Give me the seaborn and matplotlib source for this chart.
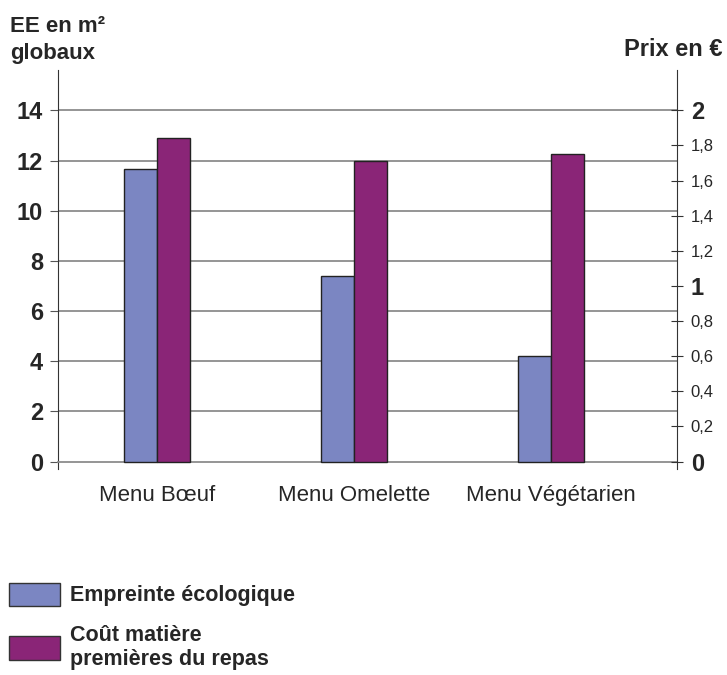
import pandas as pd
import matplotlib.pyplot as plt
import seaborn as sns
from matplotlib.patches import Patch

# data
menus = ['Menu Bœuf', 'Menu Omelette', 'Menu Végétarien']
empreinte = [11.65, 7.38, 4.22]      # EE en m² globaux (left axis)
cout = [1.84, 1.71, 1.75]            # prix en € (right axis)
series = ['Empreinte écologique', 'Coût matière\npremières du repas']
left_ticks = [0, 2, 4, 6, 8, 10, 12, 14]
right_ticks = [0, 0.2, 0.4, 0.6, 0.8, 1, 1.2, 1.4, 1.6, 1.8, 2]
right_labels = ['0', '0,2', '0,4', '0,6', '0,8', '1', '1,2', '1,4', '1,6', '1,8', '2']

sns.set_style('white')
plt.rcParams['font.family'] = ['Liberation Sans', 'DejaVu Sans']

colors = {series[0]: '#7b86c2', series[1]: '#8a2577'}

df_ee = pd.DataFrame({'menu': menus, 'serie': series[0], 'valeur': empreinte})
df_prix = pd.DataFrame({'menu': menus, 'serie': series[1], 'valeur': cout})

fig = plt.figure(figsize=(7.27, 6.75), dpi=100)
ax = fig.add_axes([0.08, 0.305, 0.851, 0.591])
ax2 = ax.twinx()

sns.barplot(data=df_ee, x='menu', y='valeur', hue='serie', hue_order=series,
            order=menus, palette=colors, width=0.335, dodge=True, saturation=1,
            edgecolor='#222222', linewidth=1, legend=False, ax=ax, zorder=3)
sns.barplot(data=df_prix, x='menu', y='valeur', hue='serie', hue_order=series,
            order=menus, palette=colors, width=0.335, dodge=True, saturation=1,
            edgecolor='#222222', linewidth=1, legend=False, ax=ax2, zorder=3)

ymin, ymax = -0.3, 15.6
ax.set_ylim(ymin, ymax)
ax2.set_ylim(ymin / 7, ymax / 7)
ax.set_xlim(-0.5, 2.64)

# left axis
ax.set_yticks(left_ticks)
ax.set_yticklabels([str(t) for t in left_ticks], fontsize=17, fontweight='bold')
ax.tick_params(axis='y', direction='out', length=6, color='#555555', pad=5)
for y in left_ticks[1:]:
    ax.axhline(y, color='#8c8c8c', lw=1.3, zorder=1)
ax.set_ylabel('')
ax.set_xlabel('')

# x axis at zero, ticks between categories
ax.spines['bottom'].set_position(('data', 0))
ax.spines['bottom'].set_color('#8c8c8c')
ax.spines['bottom'].set_linewidth(1.3)
ax.spines['top'].set_visible(False)
ax.spines['right'].set_visible(False)
ax.spines['left'].set_color('#333333')
ax.set_xticks([0, 1, 2])
ax.set_xticklabels(menus, fontsize=16)
ax.set_xticks([0.5, 1.5], minor=True)
ax.tick_params(axis='x', which='major', length=0, pad=17)
ax.tick_params(axis='x', which='minor', length=8, direction='out', color='#555555')

# right axis
ax2.set_yticks(right_ticks)
ax2.set_yticklabels(right_labels)
for lab, t in zip(ax2.get_yticklabels(), right_ticks):
    if t in (0, 1, 2):
        lab.set_fontsize(17)
        lab.set_fontweight('bold')
    else:
        lab.set_fontsize(12)
ax2.tick_params(axis='y', direction='inout', length=8, color='#333333', pad=6)
ax2.set_ylabel('')
for s in ['top', 'bottom', 'left']:
    ax2.spines[s].set_visible(False)
ax2.spines['right'].set_color('#333333')
ax2.set_xlim(-0.5, 2.64)

fig.text(0.014, 0.945, 'EE en m²', fontsize=16, fontweight='bold', va='bottom')
fig.text(0.014, 0.905, 'globaux', fontsize=16, fontweight='bold', va='bottom')
fig.text(0.994, 0.91, 'Prix en €', fontsize=17, fontweight='bold', ha='right', va='bottom')

handles = [Patch(facecolor=colors[s], edgecolor='#333333', lw=1) for s in series]
fig.legend(handles, series, loc='upper left', bbox_to_anchor=(0.012, 0.137),
           frameon=False, prop={'size': 15.5, 'weight': 'bold'}, borderaxespad=0,
           borderpad=0, handlelength=2.4, handleheight=1.3, labelspacing=0.85,
           handletextpad=0.45)

plt.savefig('out.png', dpi=100)
